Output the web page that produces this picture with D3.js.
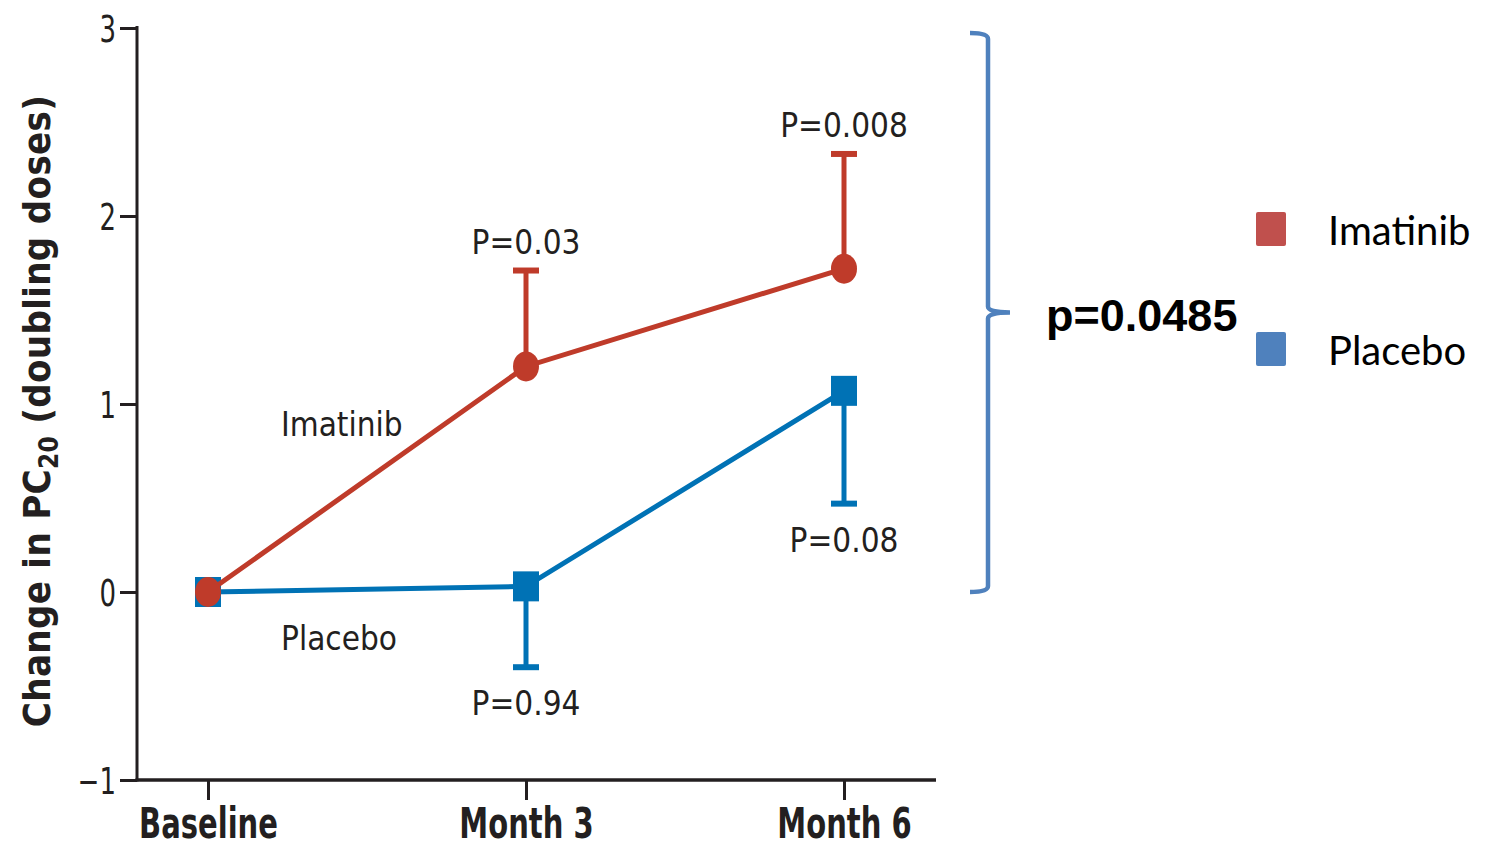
<!DOCTYPE html>
<html><head><meta charset="utf-8">
<script src="https://cdn.jsdelivr.net/npm/d3@7"></script>
<style>
body{margin:0;background:#fff;}
svg text{font-family:"Liberation Sans Narrow","DejaVu Sans Condensed","Roboto Condensed",sans-serif;}
</style></head>
<body><svg id="c" width="1490" height="848"></svg>
<script>
const categories = ["Baseline","Month 3","Month 6"];
const imatinib = [0, 1.2, 1.72];
const imatinibUpper = [null, 1.71, 2.33];
const placebo = [0, 0.03, 1.07];
const placeboLower = [null, -0.40, 0.47];
const imatinibP = [null, "P=0.03", "P=0.008"];
const placeboP = [null, "P=0.94", "P=0.08"];
const yTicks = [-1,0,1,2,3];
const overallP = "p=0.0485";
const legendItems = ["Imatinib","Placebo"];

const red = "#BF3B2A", blue = "#0072B5";
const legRed = "#C0504D", legBlue = "#4F81BD";
const ink = "#231f20";
const svg = d3.select("#c");

const y = d3.scaleLinear().domain([-1,3]).range([780,28]);
const x = d3.scalePoint().domain(categories).range([208,844]);

// axes
const yAxis = d3.axisLeft(y).tickValues(yTicks).tickSize(17).tickPadding(4)
  .tickFormat(d => d < 0 ? "\u2212" + Math.abs(d) : d);
const gy = svg.append("g").attr("transform","translate(137,0)").call(yAxis);
gy.select(".domain").remove();
gy.selectAll(".tick line").attr("stroke",ink).attr("stroke-width",3);
gy.selectAll(".tick text").attr("font-size",37).attr("fill",ink).attr("font-weight",300)
  .attr("x",0).attr("dy","0.36em").attr("transform","translate(-21,0) scale(0.78,1)");
svg.append("line").attr("x1",137).attr("x2",137).attr("y1",26).attr("y2",781.5).attr("stroke",ink).attr("stroke-width",3);

const xAxis = d3.axisBottom(x).tickSize(20).tickPadding(8);
const gx = svg.append("g").attr("transform","translate(0,780)").call(xAxis);
gx.select(".domain").remove();
gx.selectAll(".tick line").attr("stroke",ink).attr("stroke-width",3);
gx.selectAll(".tick text").attr("font-size",43).attr("font-weight","bold").attr("fill",ink)
  .attr("y",0).attr("dy",0).attr("transform","translate(0,58) scale(0.75,1)");
svg.append("line").attr("x1",135.5).attr("x2",936).attr("y1",780).attr("y2",780).attr("stroke",ink).attr("stroke-width",3.5);

// y title
const yt = svg.append("text").attr("transform","translate(50,411) rotate(-90)").attr("text-anchor","middle")
  .attr("font-size",38).attr("font-weight","bold").attr("fill",ink).attr("letter-spacing",0.3);
yt.append("tspan").text("Change in PC");
yt.append("tspan").text("20").attr("font-size",26).attr("dy",8);
yt.append("tspan").text(" (doubling doses)").attr("dy",-8);

const line = d3.line().x((d,i)=>x(categories[i])).y(d=>y(d));

// error bars
function errbar(vals, ends, color){
  vals.forEach((v,i)=>{
    if(ends[i]==null) return;
    const cx = x(categories[i]);
    svg.append("line").attr("x1",cx).attr("x2",cx).attr("y1",y(v)).attr("y2",y(ends[i])).attr("stroke",color).attr("stroke-width",5);
    svg.append("line").attr("x1",cx-13).attr("x2",cx+13).attr("y1",y(ends[i])).attr("y2",y(ends[i])).attr("stroke",color).attr("stroke-width",6);
  });
}
errbar(placebo, placeboLower, blue);
errbar(imatinib, imatinibUpper, red);

svg.append("path").datum(placebo).attr("d",line).attr("fill","none").attr("stroke",blue).attr("stroke-width",5);
svg.selectAll(".sq").data(placebo).enter().append("rect")
  .attr("x",(d,i)=>x(categories[i])-13).attr("y",d=>y(d)-15).attr("width",26).attr("height",30).attr("fill",blue);
svg.append("path").datum(imatinib).attr("d",line).attr("fill","none").attr("stroke",red).attr("stroke-width",5);
svg.selectAll(".ci").data(imatinib).enter().append("ellipse")
  .attr("cx",(d,i)=>x(categories[i])).attr("cy",d=>y(d)).attr("rx",13).attr("ry",15).attr("fill",red);

// p labels
const pFont = 33;
function lab(t, xx, yy, anchor){
  svg.append("text").attr("x",xx).attr("y",yy).attr("text-anchor",anchor)
    .attr("font-size",pFont).attr("font-weight",300).attr("fill",ink).text(t);
}
imatinibP.forEach((t,i)=>{ if(t) lab(t, x(categories[i]), y(imatinibUpper[i])-17, "middle"); });
placeboP.forEach((t,i)=>{ if(t) lab(t, x(categories[i]), y(placeboLower[i])+48, "middle"); });
lab("Imatinib", 281, 436, "start");
lab("Placebo", 281, 650, "start");

// bracket
const bTop = y(3)+5, bBot = y(0), bMid = (bTop+bBot)/2;
svg.append("path").attr("d",`M970,${bTop} Q988,${bTop} 988,${bTop+6} L988,${bMid-6} Q988,${bMid} 1010,${bMid} Q988,${bMid} 988,${bMid+6} L988,${bBot-6} Q988,${bBot} 970,${bBot}`)
  .attr("fill","none").attr("stroke",legBlue).attr("stroke-width",4.5);

svg.append("text").attr("x",1046).attr("y",331)
  .attr("font-size",45).attr("font-weight","bold").attr("fill","#000").text(overallP).style("font-family","'Liberation Sans',Arial,sans-serif");

// legend
const lg = svg.append("g");
legendItems.forEach((t,i)=>{
  const yy = 212 + i*120;
  lg.append("rect").attr("x",1256).attr("y",yy).attr("width",30).attr("height",34).attr("rx",2).attr("fill",i===0?legRed:legBlue);
  lg.append("text").attr("x",1328).attr("y",yy+33).attr("font-size",40).attr("fill","#000")
    .style("font-family","Lato,'Open Sans',sans-serif").text(t);
});
</script></body></html>
